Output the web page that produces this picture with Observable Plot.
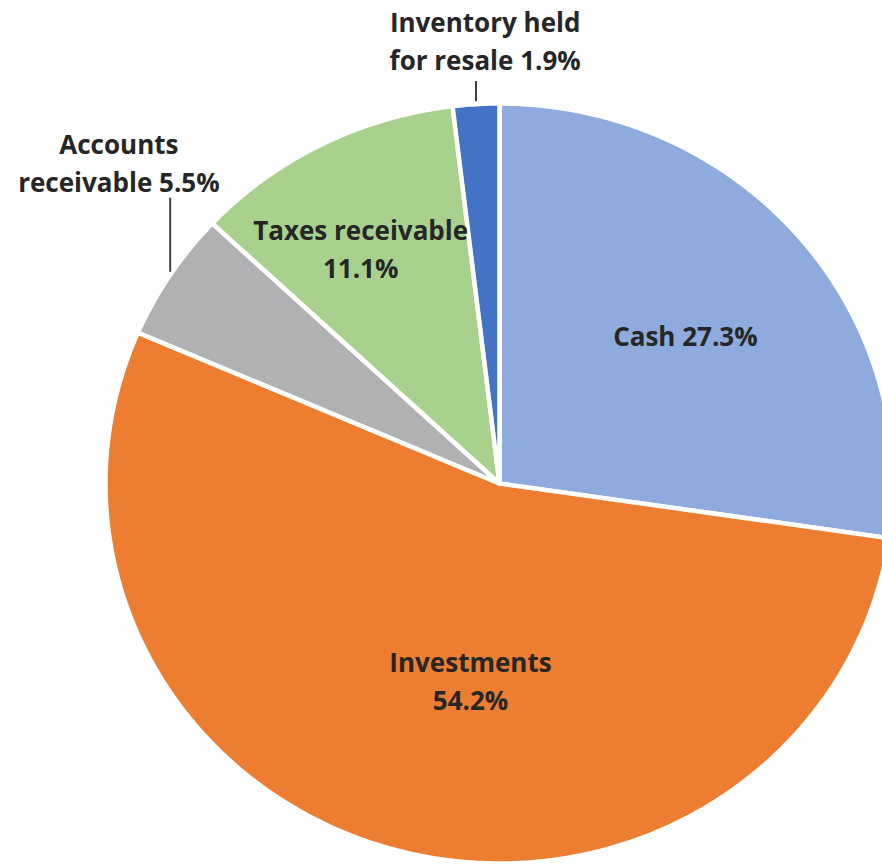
<!DOCTYPE html>
<html><head><meta charset="utf-8">
<script src="https://cdn.jsdelivr.net/npm/d3@7"></script>
<script src="https://cdn.jsdelivr.net/npm/@observablehq/plot@0.6"></script>
<style>html,body{margin:0;padding:0;background:#fff;overflow:hidden;} #chart svg{overflow:hidden;display:block;}</style>
</head><body><div id="chart"></div>
<script>
// ---- data ----
const categories = ["Cash", "Investments", "Accounts receivable", "Taxes receivable", "Inventory held for resale"];
const shares = [27.3, 54.2, 5.5, 11.1, 1.9];
const labelTemplates = ["Cash {v}", "Investments\n{v}", "Accounts\nreceivable {v}", "Taxes receivable\n{v}", "Inventory held\nfor resale {v}"];
const colors = ["#8FAADC", "#ED7D31", "#B0B1B3", "#A9D18E", "#4472C4"];

// ---- layout (not data) ----
const labelPolar = [ {r: 0.608, a: 50.9}, {r: 0.529, a: 188.0}, {r: 1.28, a: 311.0}, {r: 0.707, a: 330.1}, {r: 1.161, a: 358.2} ];
const leaderLen = [0, 0, 0.195, 0, 0.053];

const total = d3.sum(shares);
const rad = (deg) => deg * Math.PI / 180;
let acc = 0;
const slices = categories.map((c, i) => {
  const a0 = acc / total * 360; acc += shares[i];
  const a1 = acc / total * 360;
  return {name: c, value: shares[i], a0, a1, mid: (a0 + a1) / 2};
});
const polyPts = [];
slices.forEach(s => {
  polyPts.push({name: s.name, x: 0, y: 0});
  const n = Math.max(2, Math.ceil((s.a1 - s.a0) / 0.5));
  for (let k = 0; k <= n; k++) {
    const a = rad(s.a0 + (s.a1 - s.a0) * k / n);
    polyPts.push({name: s.name, x: Math.sin(a), y: Math.cos(a)});
  }
});
const labels = slices.map((s, i) => {
  const p = labelPolar[i];
  return {text: labelTemplates[i].replace("{v}", s.value.toFixed(1) + "%"), x: p.r * Math.sin(rad(p.a)), y: p.r * Math.cos(rad(p.a))};
});
const leaders = slices.map((s, i) => ({len: leaderLen[i], x: Math.sin(rad(s.mid)), y: Math.cos(rad(s.mid))}))
  .filter(d => d.len > 0)
  .map(d => ({x1: d.x, y1: d.y + 0.008, x2: d.x, y2: d.y + 0.008 + d.len}));

const chart = Plot.plot({
  width: 882, height: 864,
  margin: 0,
  x: {domain: [-1, 1], range: [105, 893], axis: null},
  y: {domain: [-1, 1], range: [863, 103], axis: null},
  color: {domain: categories, range: colors},
  style: {background: "transparent"},
  marks: [
    Plot.line(polyPts, {x: "x", y: "y", z: "name", fill: "name", stroke: "white", strokeWidth: 4.5, strokeLinejoin: "round", curve: "linear-closed"}),
    Plot.link(leaders, {x1: "x1", y1: "y1", x2: "x2", y2: "y2", stroke: "#404040", strokeWidth: 2}),
    Plot.text(labels, {x: "x", y: "y", text: "text", fill: "#262626", fontSize: 26, fontWeight: "bold", fontFamily: "Open Sans", lineHeight: 1.46, dy: -4})
  ]
});
document.getElementById("chart").appendChild(chart);
</script>
</body></html>
